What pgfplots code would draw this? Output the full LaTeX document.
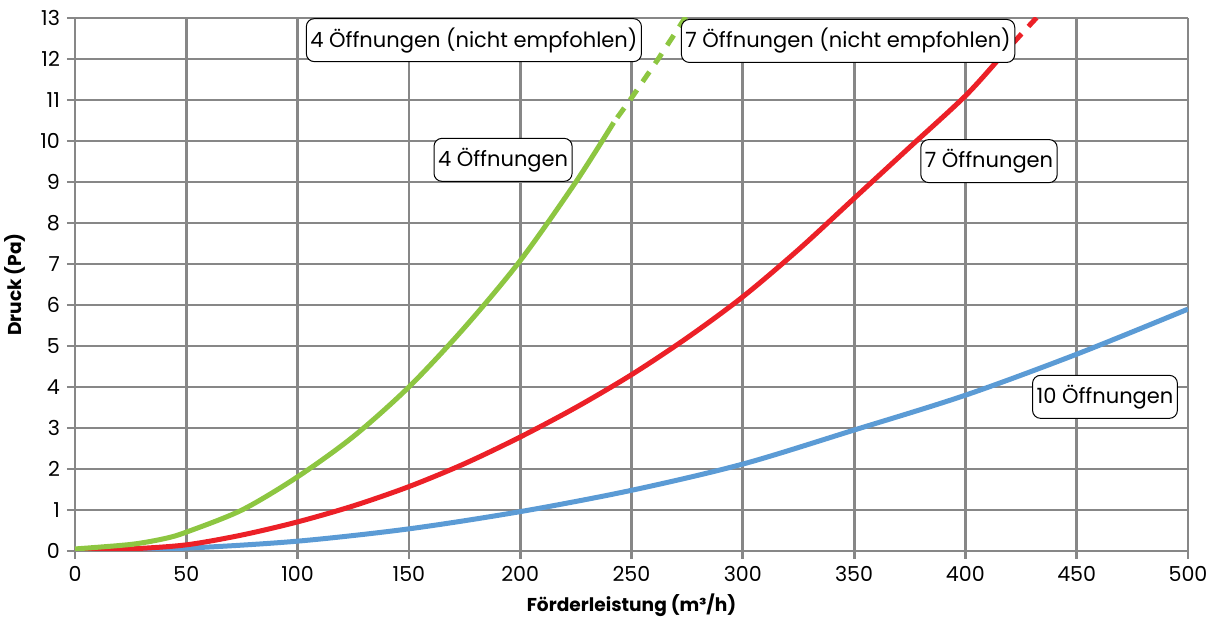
\documentclass[border=0pt]{standalone}
\usepackage{pgfplots}
\pgfplotsset{compat=1.18}
\usepackage{fontspec}
\setmainfont{Poppins}
\definecolor{gridgray}{HTML}{878787}
\definecolor{cgreen}{HTML}{8DC641}
\definecolor{cred}{HTML}{EC2027}
\definecolor{cblue}{HTML}{5B9BD5}
\begin{document}
\fontsize{10}{12}\selectfont
\begin{tikzpicture}
\begin{axis}[name=a,
  scale only axis, width=556.5pt, height=266.5pt,
  xmin=0, xmax=500, ymin=0, ymax=13,
  xtick={0,50,...,500}, ytick={0,1,...,13},
  grid=major,
  major grid style={gridgray, line width=1.4pt},
  axis line style={gridgray, line width=1.4pt},
  axis x line*=bottom, axis y line*=left,
  tick style={gridgray, line width=1.4pt},
  tick align=outside, major tick length=4pt,
  /pgf/number format/assume math mode=true,
  ticklabel style={font=\fontsize{10.3}{12}\selectfont},
  xlabel={\bfseries Förderleistung (m³/h)},
  ylabel={\bfseries Druck (Pa)},
  label style={font=\fontsize{9.3}{11}\selectfont},
  xlabel style={yshift=0.8pt},
  ylabel style={yshift=0.5pt},
  clip=true,
]
\addplot[cblue, line width=2.5pt, smooth] coordinates {(0,0) (50,0.07) (100,0.24) (150,0.54) (200,0.96) (250,1.48) (300,2.12) (350,2.95) (400,3.8) (450,4.8) (500,5.9)};
\addplot[cred, line width=2.5pt, smooth] coordinates {(0,0) (25,0.05) (50,0.15) (75,0.39) (100,0.71) (125,1.1) (150,1.57) (175,2.13) (200,2.78) (225,3.5) (250,4.3) (275,5.2) (300,6.2) (325,7.35) (350,8.6) (375,9.85) (400,11.1) (415,12.0)};
\addplot[cred, line width=2.5pt, dash pattern=on 6pt off 5pt] coordinates {(415,12.0) (425,12.6) (437,13.3)};
\addplot[cgreen, line width=2.5pt, smooth] coordinates {(0,0.05) (25,0.16) (40,0.3) (50,0.46) (75,1.0) (100,1.81) (125,2.79) (150,4.0) (175,5.45) (200,7.08) (225,9.0) (242,10.45)};
\addplot[cgreen, line width=2.5pt, dash pattern=on 6pt off 5pt, dash phase=8pt] coordinates {(242,10.45) (250,11.05) (262,12.0) (275,13.08)};
\tikzset{lbl/.style={draw=black, line width=0.5pt, fill=white, rounded corners=4pt, inner xsep=2pt, minimum height=21.5pt, font=\fontsize{10.5}{12}\selectfont}}
\node[lbl] at (axis cs:179.2,12.46) {4 Öffnungen (nicht empfohlen)};
\node[lbl] at (axis cs:347.3,12.44) {7 Öffnungen (nicht empfohlen)};
\node[lbl] at (axis cs:192.3,9.54) {4 Öffnungen};
\node[lbl] at (axis cs:410.6,9.51) {7 Öffnungen};
\node[lbl] at (axis cs:462.7,3.76) {10 Öffnungen};
\end{axis}
\pgfresetboundingbox
\path ([shift={(-37.5pt,-34pt)}]a.south west) rectangle ([shift={(16pt,9pt)}]a.north east);
\end{tikzpicture}
\end{document}
